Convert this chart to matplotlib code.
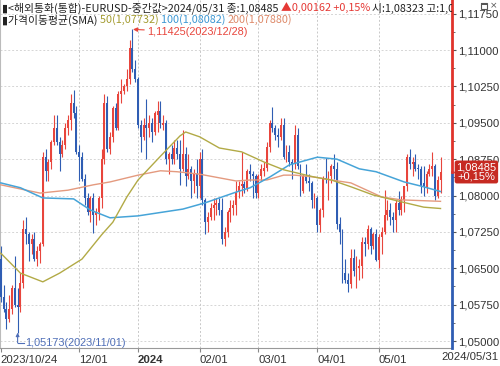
import matplotlib
matplotlib.use('Agg')
import matplotlib.pyplot as plt
import matplotlib.transforms as mtransforms
from matplotlib.patches import Rectangle
import numpy as np
import pandas as pd

plt.rcParams['font.family'] = ['Noto Sans CJK KR', 'DejaVu Sans']
NUM_FONT = ['Liberation Sans Narrow', 'Liberation Sans', 'DejaVu Sans']

# 일봉 (2023/10/24 ~ 2024/05/31, 1/1 휴장)
days = pd.bdate_range('2023-10-24', '2024-05-31').drop(pd.Timestamp('2024-01-01'))

opens = [1.0670, 1.0590, 1.0565, 1.0545, 1.0565, 1.0610, 1.0575, 1.0570, 1.0620, 1.0730,
         1.0720, 1.0700, 1.0710, 1.0670, 1.0685, 1.0700, 1.0880, 1.0850, 1.0870, 1.0910,
         1.0940, 1.0910, 1.0885, 1.0905, 1.0940, 1.0955, 1.0990, 1.0970, 1.0890, 1.0880,
         1.0835, 1.0795, 1.0765, 1.0795, 1.0760, 1.0765, 1.0795, 1.0875, 1.0990, 1.0895,
         1.0920, 1.0980, 1.0940, 1.1010, 1.1015, 1.1025, 1.1040, 1.1105, 1.1060, 1.1040,
         1.0945, 1.0920, 1.0945, 1.0940, 1.0950, 1.0930, 1.0965, 1.0975, 1.0945, 1.0950,
         1.0875, 1.0885, 1.0875, 1.0897, 1.0885, 1.0855, 1.0885, 1.0840, 1.0855, 1.0830,
         1.0845, 1.0820, 1.0875, 1.0790, 1.0745, 1.0755, 1.0775, 1.0780, 1.0785, 1.0770,
         1.0710, 1.0725, 1.0765, 1.0775, 1.0780, 1.0808, 1.0820, 1.0823, 1.0815, 1.0850,
         1.0845, 1.0840, 1.0805, 1.0840, 1.0850, 1.0857, 1.0900, 1.0950, 1.0940, 1.0925,
         1.0920, 1.0945, 1.0880, 1.0890, 1.0870, 1.0865, 1.0925, 1.0860, 1.0810, 1.0840,
         1.0830, 1.0825, 1.0790, 1.0795, 1.0740, 1.0770, 1.0837, 1.0835, 1.0840, 1.0860,
         1.0855, 1.0742, 1.0725, 1.0640, 1.0625, 1.0618, 1.0672, 1.0645, 1.0650, 1.0655,
         1.0705, 1.0700, 1.0730, 1.0695, 1.0720, 1.0668, 1.0715, 1.0725, 1.0760, 1.0770,
         1.0755, 1.0750, 1.0785, 1.0770, 1.0790, 1.0820, 1.0880, 1.0865, 1.0870, 1.0857,
         1.0855, 1.0825, 1.0818, 1.0845, 1.0855, 1.0860, 1.0800, 1.08323]
highs = [1.0695, 1.0615, 1.0580, 1.0595, 1.0615, 1.0675, 1.0610, 1.0640, 1.0750, 1.0755,
         1.0725, 1.0720, 1.0725, 1.0695, 1.0705, 1.0890, 1.0895, 1.0875, 1.0915, 1.0965,
         1.0965, 1.0920, 1.0915, 1.0950, 1.0965, 1.1010, 1.1017, 1.0985, 1.0905, 1.0890,
         1.0845, 1.0805, 1.0800, 1.0805, 1.0775, 1.0800, 1.0895, 1.1010, 1.1005, 1.0930,
         1.0985, 1.0990, 1.1015, 1.1040, 1.1030, 1.1060, 1.1120, 1.11425, 1.1080, 1.1045,
         1.0955, 1.0960, 1.1000, 1.0965, 1.0960, 1.0975, 1.0995, 1.0995, 1.0965, 1.0955,
         1.0890, 1.0905, 1.0915, 1.0915, 1.0915, 1.0935, 1.0900, 1.0885, 1.0860, 1.0855,
         1.0875, 1.0890, 1.0895, 1.0795, 1.0765, 1.0785, 1.0795, 1.0795, 1.0795, 1.0795,
         1.0735, 1.0770, 1.0790, 1.0790, 1.0830, 1.0830, 1.0890, 1.0830, 1.0855, 1.0865,
         1.0850, 1.0845, 1.0845, 1.0865, 1.0870, 1.0910, 1.0955, 1.0982, 1.0945, 1.0940,
         1.0960, 1.0960, 1.0905, 1.0905, 1.0875, 1.0945, 1.0940, 1.0865, 1.0845, 1.0865,
         1.0845, 1.0830, 1.0805, 1.0800, 1.0775, 1.0840, 1.0877, 1.0850, 1.0865, 1.0885,
         1.0870, 1.0755, 1.0730, 1.0670, 1.0640, 1.0690, 1.0690, 1.0675, 1.0670, 1.0715,
         1.0715, 1.0740, 1.0735, 1.0725, 1.0730, 1.0720, 1.0735, 1.0812, 1.0790, 1.0785,
         1.0765, 1.0790, 1.0810, 1.0800, 1.0820, 1.0885, 1.0895, 1.0880, 1.0885, 1.0865,
         1.0860, 1.0860, 1.0850, 1.0865, 1.0890, 1.0865, 1.0840, 1.0880]
lows = [1.0580, 1.0560, 1.0525, 1.0540, 1.0555, 1.0570, 1.05173, 1.0560, 1.0610, 1.0700,
        1.0665, 1.0680, 1.0665, 1.0655, 1.0660, 1.0695, 1.0830, 1.0830, 1.0855, 1.0905,
        1.0905, 1.0850, 1.0880, 1.0895, 1.0925, 1.0935, 1.0960, 1.0885, 1.0830, 1.0830,
        1.0780, 1.0760, 1.0745, 1.0723, 1.0740, 1.0750, 1.0775, 1.0865, 1.0890, 1.0885,
        1.0910, 1.0935, 1.0935, 1.0990, 1.1010, 1.1015, 1.1030, 1.1055, 1.1035, 1.0940,
        1.0890, 1.0915, 1.0875, 1.0920, 1.0910, 1.0925, 1.0930, 1.0940, 1.0935, 1.0865,
        1.0845, 1.0865, 1.0865, 1.0875, 1.0822, 1.0850, 1.0820, 1.0835, 1.0795, 1.0805,
        1.0795, 1.0795, 1.0780, 1.0720, 1.0725, 1.0750, 1.0750, 1.0760, 1.0760, 1.0700,
        1.0695, 1.0715, 1.0745, 1.0760, 1.0760, 1.0795, 1.0800, 1.0805, 1.0810, 1.0830,
        1.0795, 1.0795, 1.0795, 1.0830, 1.0840, 1.0850, 1.0890, 1.0930, 1.0915, 1.0900,
        1.0915, 1.0875, 1.0870, 1.0860, 1.0835, 1.0855, 1.0855, 1.0800, 1.0805, 1.0825,
        1.0810, 1.0775, 1.0775, 1.0725, 1.0725, 1.0755, 1.0825, 1.0790, 1.0825, 1.0835,
        1.0730, 1.0700, 1.0620, 1.0620, 1.0601, 1.0610, 1.0635, 1.0610, 1.0625, 1.0630,
        1.0675, 1.0690, 1.0680, 1.0690, 1.0665, 1.0650, 1.0680, 1.0720, 1.0750, 1.0740,
        1.0725, 1.0725, 1.0760, 1.0760, 1.0765, 1.0810, 1.0855, 1.0840, 1.0850, 1.0835,
        1.0805, 1.0800, 1.0805, 1.0840, 1.0840, 1.0790, 1.0795, 1.0805]
closes = [1.0590, 1.0565, 1.0545, 1.0565, 1.0610, 1.0575, 1.0570, 1.0620, 1.0730, 1.0720,
          1.0700, 1.0710, 1.0670, 1.0685, 1.0700, 1.0880, 1.0850, 1.0870, 1.0910, 1.0940,
          1.0910, 1.0885, 1.0905, 1.0940, 1.0955, 1.0990, 1.0970, 1.0890, 1.0880, 1.0835,
          1.0795, 1.0765, 1.0795, 1.0760, 1.0765, 1.0795, 1.0875, 1.0990, 1.0895, 1.0920,
          1.0980, 1.0940, 1.1010, 1.1015, 1.1025, 1.1040, 1.1105, 1.1060, 1.1040, 1.0945,
          1.0920, 1.0945, 1.0940, 1.0950, 1.0930, 1.0970, 1.0975, 1.0950, 1.0950, 1.0875,
          1.0885, 1.0875, 1.0897, 1.0885, 1.0855, 1.0885, 1.0840, 1.0855, 1.0830, 1.0845,
          1.0820, 1.0875, 1.0790, 1.0745, 1.0755, 1.0775, 1.0780, 1.0785, 1.0770, 1.0710,
          1.0725, 1.0765, 1.0775, 1.0780, 1.0808, 1.0820, 1.0823, 1.0815, 1.0850, 1.0845,
          1.0840, 1.0805, 1.0840, 1.0855, 1.0857, 1.0900, 1.0950, 1.0940, 1.0925, 1.0920,
          1.0945, 1.0880, 1.0890, 1.0870, 1.0865, 1.0925, 1.0860, 1.0810, 1.0840, 1.0830,
          1.0825, 1.0790, 1.0795, 1.0740, 1.0770, 1.0835, 1.0835, 1.0840, 1.0860, 1.0855,
          1.0742, 1.0725, 1.0640, 1.0625, 1.0618, 1.0672, 1.0645, 1.0655, 1.0655, 1.0705,
          1.0700, 1.0730, 1.0695, 1.0720, 1.0668, 1.0715, 1.0725, 1.0760, 1.0770, 1.0755,
          1.0750, 1.0785, 1.0770, 1.0790, 1.0820, 1.0880, 1.0865, 1.0870, 1.0855, 1.0855,
          1.0820, 1.0818, 1.0845, 1.0855, 1.0860, 1.0800, 1.08323, 1.08485]

# 이동평균선
sma50_dates = ['2023-10-24', '2023-11-02', '2023-11-14', '2023-11-22', '2023-12-04', '2023-12-13',
               '2023-12-19', '2023-12-26', '2024-01-02', '2024-01-12', '2024-01-23', '2024-01-25',
               '2024-02-01', '2024-02-12', '2024-02-22', '2024-03-05', '2024-03-14', '2024-03-29',
               '2024-04-08', '2024-04-17', '2024-04-29', '2024-05-13', '2024-05-23', '2024-05-31']
sma50_vals = [1.0681, 1.0640, 1.0622, 1.0640, 1.0669, 1.0719, 1.0745, 1.0797, 1.0832, 1.0881,
              1.0923, 1.0931, 1.0921, 1.0898, 1.0890, 1.0869, 1.0853, 1.0838, 1.0832, 1.0818,
              1.0801, 1.0787, 1.0776, 1.07732]
sma100_dates = ['2023-10-24', '2023-11-02', '2023-11-14', '2023-11-29', '2023-12-07', '2023-12-18',
                '2024-01-02', '2024-01-24', '2024-02-05', '2024-02-20', '2024-02-27', '2024-03-07',
                '2024-03-18', '2024-04-01', '2024-04-10', '2024-04-22', '2024-04-30', '2024-05-14',
                '2024-05-23', '2024-05-31']
sma100_vals = [1.0826, 1.0816, 1.0795, 1.0793, 1.0770, 1.0754, 1.0758, 1.0772, 1.0785, 1.0807,
               1.0816, 1.0838, 1.0863, 1.0879, 1.0875, 1.0855, 1.0849, 1.0828, 1.0818, 1.08082]
sma200_dates = ['2023-10-24', '2023-11-13', '2023-11-27', '2023-12-08', '2023-12-18', '2024-01-02',
                '2024-01-12', '2024-01-22', '2024-02-01', '2024-02-20', '2024-02-27', '2024-03-06',
                '2024-03-14', '2024-03-20', '2024-03-29', '2024-04-08', '2024-04-17', '2024-05-02',
                '2024-05-13', '2024-05-31']
sma200_vals = [1.0822, 1.0805, 1.0811, 1.0822, 1.0828, 1.0842, 1.0851, 1.0849, 1.0844, 1.0830,
               1.0832, 1.0832, 1.0842, 1.0842, 1.0838, 1.0832, 1.0826, 1.0797, 1.0791, 1.07880]

month_ticks = ['2023-12-01', '2024-01-02', '2024-02-01', '2024-03-01', '2024-04-01', '2024-05-01']
month_labels = ['12/01', '2024', '02/01', '03/01', '04/01', '05/01']

UP, DOWN = '#e8453c', '#2f5db3'
C50, C100, C200 = '#b2aa46', '#46a4d8', '#e49a7f'
TXT50, TXT100, TXT200 = '#a39b30', '#3c97d3', '#de8a6a'

def pos(d):
    return days.get_loc(pd.Timestamp(d))

fig = plt.figure(figsize=(5, 3.66), dpi=100)
ax = fig.add_axes([0, 18 / 366, 452 / 500, 348 / 366])
ax.set_xlim(-0.29, 161.1)
ax.set_ylim(1.04856, 1.12031)

x = np.arange(len(days))
o, h, l, c = map(np.array, (opens, highs, lows, closes))
cols = np.where(c >= o, UP, DOWN)

# 격자
yt = np.arange(1.05, 1.1176, 0.0075)
for v in yt:
    ax.axhline(v, color='#d5d5d5', lw=0.7, ls=(0, (2, 2)), zorder=0)
mt = [pos(d) for d in month_ticks]
for p in mt:
    ax.axvline(p, color='#c8c8c8', lw=0.7, ls=(0, (2, 2)), zorder=0)

# 캔들
ax.vlines(x, l, h, colors=cols, lw=0.8, zorder=2)
body = np.maximum(np.abs(c - o), 0.00008)
ax.bar(x, body, bottom=np.minimum(o, c), width=0.7, color=cols, lw=0, zorder=3)

# 이동평균
ax.plot([pos(d) for d in sma200_dates], sma200_vals, color=C200, lw=1.0, zorder=4)
ax.plot([pos(d) for d in sma100_dates], sma100_vals, color=C100, lw=1.1, zorder=4)
ax.plot([pos(d) for d in sma50_dates], sma50_vals, color=C50, lw=1.0, zorder=4)

# 최고/최저 표시
hi_i = int(np.argmax(h))
lo_i = int(np.argmin(l))
ax.annotate('1,11425(2023/12/28)', xy=(hi_i + 0.2, h[hi_i]), xytext=(hi_i + 5.2, h[hi_i] - 0.0006),
            color='#e8453c', fontsize=7.8, family=NUM_FONT, va='center', ha='left',
            arrowprops=dict(arrowstyle='-|>', color='#e8453c', lw=0.8, mutation_scale=6,
                            shrinkA=0, shrinkB=0))
lo_y = 1.04959
ax.annotate('', xy=(lo_i, l[lo_i]), xytext=(lo_i, lo_y),
            arrowprops=dict(arrowstyle='-|>', color='#4f6fb8', lw=0.8, mutation_scale=5,
                            shrinkA=0, shrinkB=0))
ax.plot([lo_i, lo_i + 2.2], [lo_y, lo_y], color='#4f6fb8', lw=0.8)
ax.text(lo_i + 2.6, lo_y, '1,05173(2023/11/01)', color='#4f6fb8', fontsize=7.8,
        family=NUM_FONT, va='center', ha='left')

# 축
for s in ['top', 'right']:
    ax.spines[s].set_visible(False)
ax.spines['left'].set_color('#bbbbbb')
ax.spines['bottom'].set_color('#999999')
ax.yaxis.tick_right()
ax.set_yticks(yt)
ax.set_yticklabels([f'{v:.5f}'.replace('.', ',') for v in yt], family=NUM_FONT, fontsize=8.2,
                   color='#333333')
ax.set_yticks(yt[:-1] + 0.00375, minor=True)
ax.tick_params(axis='y', which='major', length=3, pad=1.5, color='#555555')
ax.tick_params(axis='y', which='minor', length=2, color='#555555')

ax.set_xticks([0] + mt)
ax.set_xticklabels(['2023/10/24'] + month_labels, family=NUM_FONT, fontsize=8.2,
                   color='#333333', ha='left')
ax.tick_params(axis='x', length=3, pad=2, color='#888888')
for t in ax.get_xticklabels():
    if t.get_text() == '2024':
        t.set_fontweight('bold')
fig.text(0.998, 1 - 357 / 366, '2024/05/31', family=NUM_FONT, fontsize=8.2, color='#333333',
         ha='right', va='center')

# 오른쪽 가격축 (현재가 위 빨강 / 아래 파랑)
last = closes[-1]
bt = mtransforms.blended_transform_factory(ax.transAxes, ax.transData)
ax.plot([1, 1], [1.04856, last], color='#2f5db3', lw=2.0, transform=bt, clip_on=False, zorder=6)
ax.plot([1, 1], [last, 1.12031], color='#e0332b', lw=2.0, transform=bt, clip_on=False, zorder=6)
ax.plot(1.012, last, marker='<', ms=5, color='#c62a22', transform=bt, clip_on=False, zorder=7)
ax.text(1.054, last, '1,08485\n+0,15%', transform=bt, ha='center', va='center', color='white',
        fontsize=8, family=NUM_FONT, linespacing=0.95, clip_on=False, zorder=7,
        bbox=dict(boxstyle='round,pad=0.15,rounding_size=0.2', fc='#c62a22', ec='none'))

# 상단 제목 두 줄
fig.canvas.draw()
rend = fig.canvas.get_renderer()

def put_parts(y_px, parts, size=7.8):
    px = 2
    for s, col in parts:
        t = ax.text(px, y_px, s, color=col, fontsize=size, va='center', ha='left',
                    transform=mtransforms.IdentityTransform(), clip_on=True, zorder=8)
        t.set_clip_box(ax.bbox)
        px += t.get_window_extent(rend).width

put_parts(366 - 8, [('▮<해외통화(통합)-EURUSD-중간값>2024/05/31 종:1,08485 ', '#222222'),
                    ('▲0,00162 +0,15% ', '#e53935'),
                    ('시:1,08323 고:1,0', '#222222')])
put_parts(366 - 20, [('▮가격이동평균(SMA) ', '#222222'),
                     ('50(1,07732) ', TXT50),
                     ('100(1,08082) ', TXT100),
                     ('200(1,07880)', TXT200)])

# 창 아이콘
fig.patches.append(Rectangle((481 / 500, 1 - 9 / 366), 6 / 500, 6 / 366, transform=fig.transFigure,
                             fill=False, ec='#555555', lw=0.8))
fig.patches.append(Rectangle((481 / 500, 1 - 5 / 366), 6 / 500, 2 / 366, transform=fig.transFigure,
                             fc='#555555', ec='none'))
fig.text(0.988, 1 - 5.5 / 366, '×', fontsize=6.5, color='#555555', ha='center', va='center',
         family='DejaVu Sans')

fig.savefig('out.png', dpi=100)
